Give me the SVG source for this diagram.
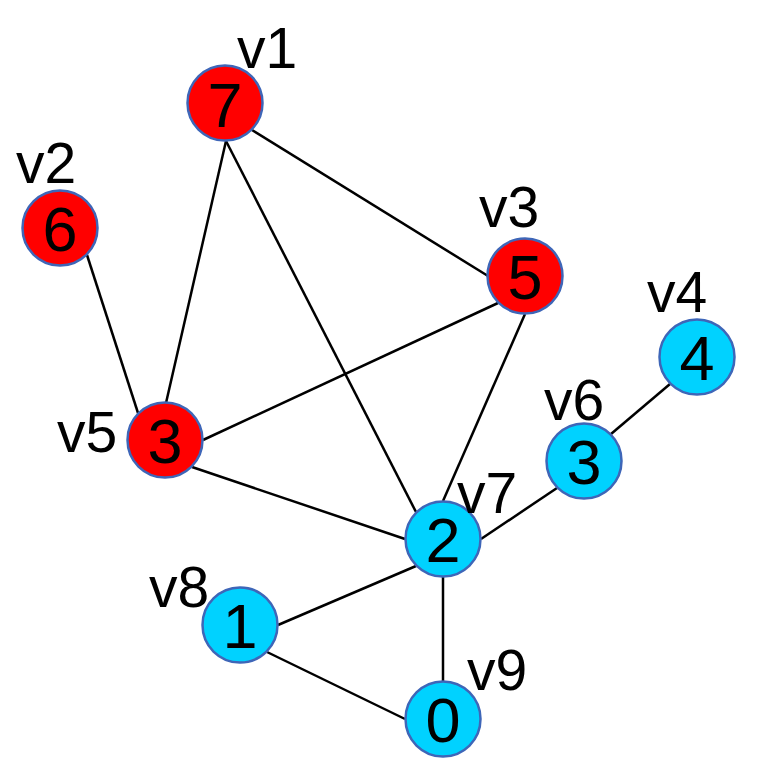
<svg xmlns="http://www.w3.org/2000/svg" width="763" height="759" viewBox="0 0 763 759">
<style>
.e{stroke:#000;stroke-width:2.5;fill:none}
.n circle{stroke:#3e66b8;stroke-width:2.5}
.r circle{fill:#ff0000}
.c circle{fill:#00d2ff}
.d{font-family:"Liberation Sans",Arial,sans-serif;font-size:63px;fill:#000;text-anchor:middle}
.l{font-family:"Liberation Sans",Arial,sans-serif;font-size:57px;fill:#000}
</style>
<rect width="763" height="759" fill="#fff"/>
<g id="edges">
<line class="e" x1="226" y1="141" x2="166" y2="403"/>
<line class="e" x1="226" y1="141" x2="416" y2="512"/>
<line class="e" x1="252" y1="130" x2="488" y2="276"/>
<line class="e" x1="87" y1="255" x2="138" y2="413"/>
<line class="e" x1="498" y1="303" x2="203" y2="440"/>
<line class="e" x1="525" y1="314" x2="443" y2="501"/>
<line class="e" x1="192" y1="467" x2="405" y2="539"/>
<line class="e" x1="557" y1="488" x2="481" y2="539"/>
<line class="e" x1="611" y1="434" x2="670" y2="384"/>
<line class="e" x1="416" y1="566" x2="278" y2="625"/>
<line class="e" x1="443" y1="577" x2="443" y2="681"/>
<line class="e" x1="267" y1="652" x2="405" y2="719"/>
</g>
<g id="v1" class="n r"><circle cx="225" cy="103" r="37.5"/><text class="d" x="225" y="127">7</text><text class="l" x="237" y="68">v1</text></g>
<g id="v2" class="n r"><circle cx="60" cy="228" r="37.5"/><text class="d" x="60" y="251">6</text><text class="l" x="16" y="183">v2</text></g>
<g id="v3" class="n r"><circle cx="525" cy="276" r="37.5"/><text class="d" x="525" y="299">5</text><text class="l" x="479" y="227">v3</text></g>
<g id="v4" class="n c"><circle cx="697" cy="357" r="37.5"/><text class="d" x="697" y="380">4</text><text class="l" x="647" y="312">v4</text></g>
<g id="v5" class="n r"><circle cx="165" cy="440" r="37.5"/><text class="d" x="165" y="463">3</text><text class="l" x="57" y="452">v5</text></g>
<g id="v6" class="n c"><circle cx="584" cy="461" r="37.5"/><text class="d" x="584" y="484">3</text><text class="l" x="544" y="420">v6</text></g>
<g id="v7" class="n c"><circle cx="443" cy="539" r="37.5"/><text class="d" x="443" y="562">2</text><text class="l" x="457" y="513">v7</text></g>
<g id="v8" class="n c"><circle cx="240" cy="625" r="37.5"/><text class="d" x="240" y="648">1</text><text class="l" x="149" y="607">v8</text></g>
<g id="v9" class="n c"><circle cx="443" cy="719" r="37.5"/><text class="d" x="443" y="742">0</text><text class="l" x="467" y="690">v9</text></g>
</svg>
